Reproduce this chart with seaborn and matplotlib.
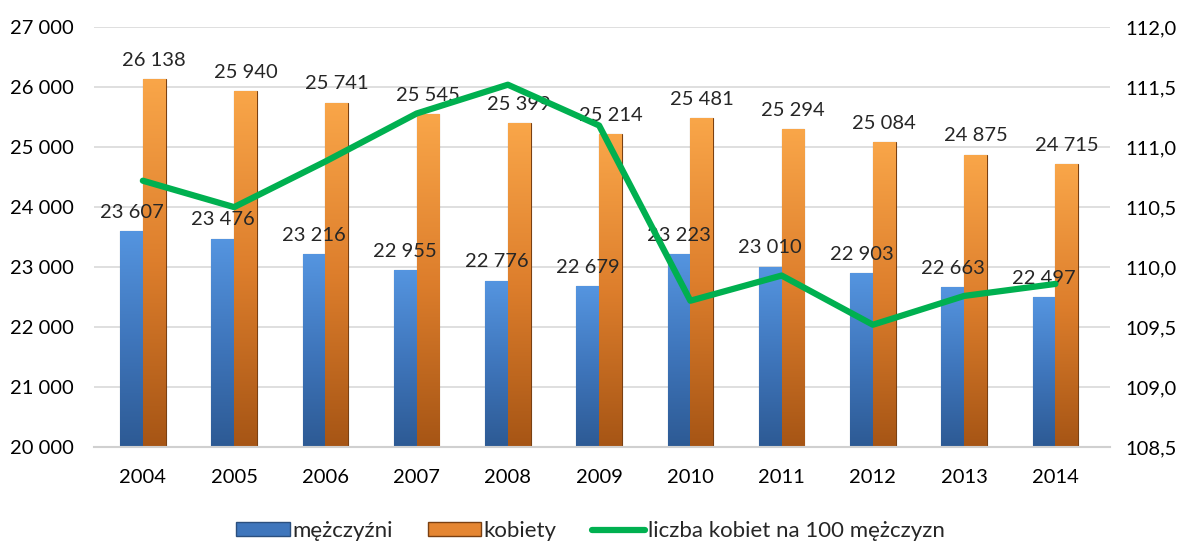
import numpy as np
import pandas as pd
import matplotlib
matplotlib.use("Agg")
import matplotlib.pyplot as plt
import seaborn as sns
from matplotlib.colors import LinearSegmentedColormap
from matplotlib.patches import Patch
from matplotlib.lines import Line2D

years = ["2004", "2005", "2006", "2007", "2008", "2009", "2010", "2011", "2012", "2013", "2014"]
men = [23607, 23476, 23216, 22955, 22776, 22679, 23223, 23010, 22903, 22663, 22497]
women = [26138, 25940, 25741, 25545, 25399, 25214, 25481, 25294, 25084, 24875, 24715]
ratio = [110.72, 110.50, 110.88, 111.28, 111.52, 111.18, 109.72, 109.93, 109.52, 109.76, 109.86]
series_names = ["mężczyźni", "kobiety"]
ratio_name = "liczba kobiet na 100 mężczyzn"

sns.set_theme(style="white")
plt.rcParams["font.family"] = ["Lato", "DejaVu Sans"]
FS = 14.5

fig = plt.figure(figsize=(11.81, 5.42), dpi=100)
ax = fig.add_axes([0.080, 0.175, 0.860, 0.775])

df = pd.DataFrame({
    "year": years * 2,
    "value": men + women,
    "series": [series_names[0]] * len(years) + [series_names[1]] * len(years),
})
base_cols = {"mężczyźni": "#4A86D0", "kobiety": "#F59A3E"}
sns.barplot(data=df, x="year", y="value", hue="series", palette=base_cols,
            width=0.5, ax=ax, legend=False, saturation=1, order=years)

ax.set_ylim(20000, 27000)
ax.set_xlim(-0.53, 10.6)
ax.set_yticks(np.arange(20000, 27001, 1000))
ax.set_yticklabels([f"{v:,}".replace(",", " ") for v in range(20000, 27001, 1000)])
ax.yaxis.grid(True, color="#D9D9D9", linewidth=1.2)
ax.set_axisbelow(True)
for s in ["top", "right", "left"]:
    ax.spines[s].set_visible(False)
ax.spines["bottom"].set_color("#D0D0D0")
ax.spines["bottom"].set_linewidth(1.5)
ax.set_xlabel("")
ax.set_ylabel("")
ax.tick_params(axis="y", length=0, labelsize=FS, colors="black", pad=15)
ax.tick_params(axis="x", length=0, labelsize=FS, colors="black", pad=16)

cmaps = {
    "mężczyźni": LinearSegmentedColormap.from_list("b", ["#2D5A94", "#3F76BC", "#5595E0"]),
    "kobiety": LinearSegmentedColormap.from_list("o", ["#A65515", "#DD7E2C", "#F9A649"]),
}
edge = {"mężczyźni": "#2B4F7E", "kobiety": "#7A4012"}
grad = np.linspace(0, 1, 256).reshape(-1, 1)
n = len(years)
patches = [p for p in ax.patches if p.get_height() > 0]
for i, p in enumerate(patches):
    name = series_names[0] if i < n else series_names[1]
    x0, w = p.get_x(), p.get_width()
    h = p.get_height()
    p.set_facecolor("none")
    p.set_edgecolor(edge[name])
    p.set_linewidth(0.8)
    im = ax.imshow(grad, extent=[x0, x0 + w, 20000, h], origin="lower",
                   cmap=cmaps[name], aspect="auto", zorder=2)
    im.set_clip_path(p)
    ax.text(x0 + w / 2, h + 170, f"{int(h):,}".replace(",", " "),
            ha="center", va="bottom", fontsize=FS, zorder=6)
ax.set_xlim(-0.53, 10.6)
ax.set_ylim(20000, 27000)

ax2 = ax.twinx()
sns.lineplot(x=np.arange(n), y=ratio, ax=ax2, color="#00B050", linewidth=4.5, zorder=5)
ax2.set_ylim(108.5, 112.0)
ax2.set_yticks(np.arange(108.5, 112.01, 0.5))
ax2.set_yticklabels([f"{v:.1f}".replace(".", ",") for v in np.arange(108.5, 112.01, 0.5)])
for s in ["top", "right", "left", "bottom"]:
    ax2.spines[s].set_visible(False)
ax2.tick_params(axis="y", length=0, labelsize=FS, colors="black", pad=11)
ax2.grid(False)
ax2.set_xlim(-0.53, 10.6)

handles = [
    Patch(facecolor="#3F76BC", edgecolor="#2B4F7E", label=series_names[0]),
    Patch(facecolor="#E58632", edgecolor="#7A4012", label=series_names[1]),
    Line2D([0], [0], color="#00B050", linewidth=4.5, label=ratio_name),
]
fig.legend(handles=handles, loc="lower center", ncol=3, frameon=False,
           fontsize=16, bbox_to_anchor=(0.5, -0.035), handlelength=2.4,
           handleheight=0.55, handletextpad=0.1, columnspacing=1.6)

fig.savefig("out.png", dpi=100)
